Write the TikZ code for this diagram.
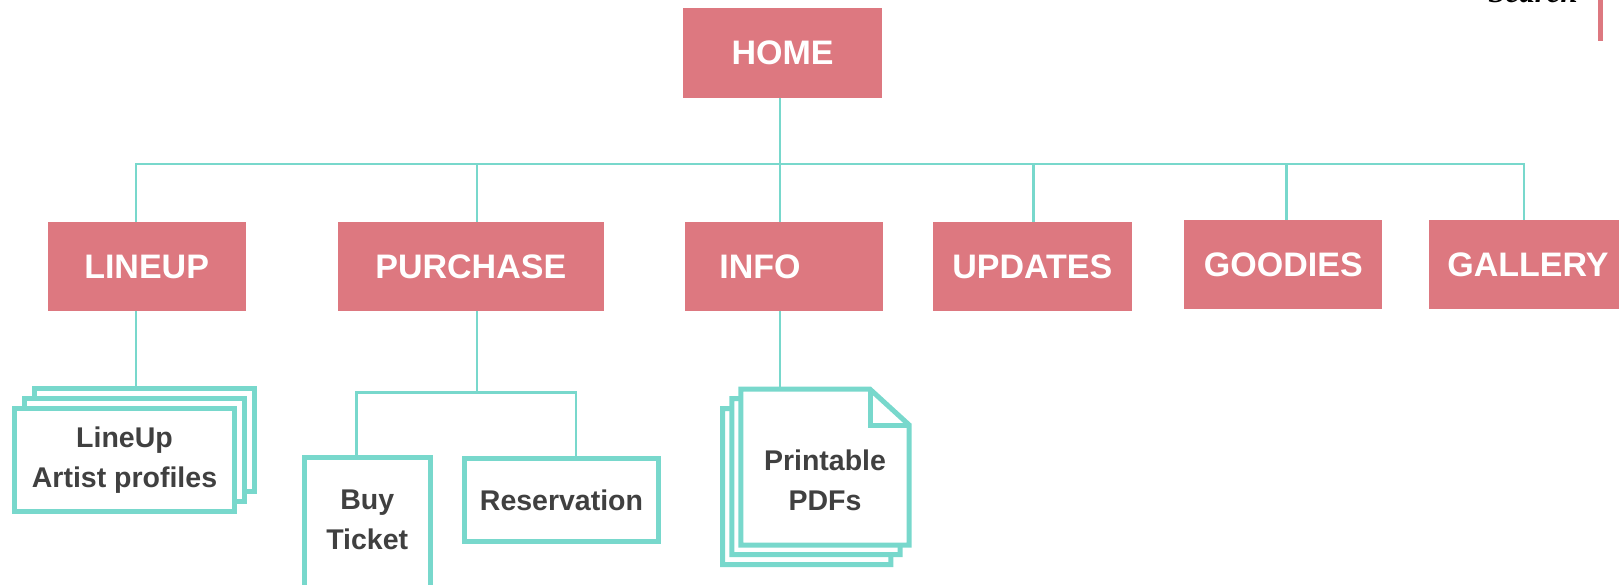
\documentclass[tikz,border=0pt]{standalone}
\usepackage{fontspec}
\setmainfont{Liberation Sans}
\newfontfamily\searchfont{Liberation Serif}
\definecolor{pinkbox}{RGB}{221,120,128}
\definecolor{tealline}{RGB}{120,216,204}
\definecolor{darktext}{RGB}{64,64,64}
\begin{document}
\begin{tikzpicture}[x=1pt,y=-1pt,
  topbox/.style={fill=pinkbox, text=white, font=\fontsize{34}{40}\selectfont\bfseries,
    inner sep=0pt, minimum width=198pt, minimum height=89pt},
  subbox/.style={draw=tealline, line width=5pt, fill=white, text=darktext,
    font=\fontsize{28.5}{40}\selectfont\bfseries, align=center, inner sep=0pt},
  subtext/.style={text=darktext, font=\fontsize{28.5}{40}\selectfont\bfseries, align=center, inner sep=0pt},
  pagestroke/.style={draw=tealline, line width=5pt, fill=white},
  conn/.style={draw=tealline, line width=2.5pt}]
\useasboundingbox (0,0) rectangle (1619,585);

% search corner
\node[anchor=base east, inner sep=0pt, font=\searchfont\bfseries\itshape\fontsize{31}{31}\selectfont] (search) at (1578,3) {Search};
\fill[pinkbox] (1597.7,0) rectangle (1602.7,41);

% top level
\node[topbox, minimum width=199pt, minimum height=90pt] (home) at (782.5,53) {HOME};
\node[topbox] (lineup) at (146.6,266.5) {LINEUP};
\node[topbox, minimum width=266pt] (purchase) at (470.8,266.5) {PURCHASE};
\node[topbox] (info) at (783.6,266.5) {};
\node[text=white, font=\fontsize{34}{40}\selectfont\bfseries, inner sep=0pt] (infotext) at (760,266.5) {INFO};
\node[topbox, minimum width=198.6pt] (updates) at (1032.3,266.5) {UPDATES};
\node[topbox] (goodies) at (1283.3,264.5) {GOODIES};
\node[topbox] (gallery) at (1528,264.5) {GALLERY};

% bus
\coordinate (busL) at (136,164);
\coordinate (busR) at (1524,164);
\coordinate (bp) at (477,164);
\coordinate (bi) at (780,164);
\coordinate (bu) at (1033.5,164);
\coordinate (bg) at (1286.5,164);
\draw[conn] (busL |- lineup.north) -- (busL) -- (busR) -- (busR |- gallery.north);
\draw[conn] (bi |- home.south) -- (bi |- info.north);
\draw[conn] (bp) -- (bp |- purchase.north);
\draw[conn] (bu) -- (bu |- updates.north);
\draw[conn] (bg) -- (bg |- goodies.north);

% lineup stack
\node[subbox, minimum width=220pt, minimum height=103pt] (lu3) at (144.5,440) {};
\node[subbox, minimum width=220pt, minimum height=103pt] (lu2) at (134.5,450) {};
\node[subbox, minimum width=220pt, minimum height=103pt] (lu1) at (124.5,460) {LineUp\\Artist profiles};
\coordinate (lux) at (136,0);
\draw[conn] (lux |- lineup.south) -- (lux |- lu3.north);

% purchase subtree
\node[subbox, minimum width=126pt, minimum height=134.5pt] (buy) at (367.2,524.75) {};
\node[subtext] (buytext) at (367.2,519.5) {Buy\\Ticket};
\node[subbox, minimum width=193.4pt, minimum height=83.6pt] (res) at (561.5,500) {Reservation};
\coordinate (pj) at (477,392.7);
\coordinate (pl) at (356.7,392.7);
\coordinate (pr) at (576,392.7);
\draw[conn] (pj |- purchase.south) -- (pj);
\draw[conn] (pl |- buy.north) -- (pl) -- (pr) -- (pr |- res.north);

% info PDFs
\foreach \dx/\dy in {-18.3/19.3, -9/9.3, 0/0}{
  \begin{scope}[shift={(\dx,\dy)}]
    \draw[pagestroke] (740.8,389.2) -- (870,389.2) -- (909.2,425) -- (909.2,545.2) -- (740.8,545.2) -- cycle;
  \end{scope}
}
\draw[draw=tealline, line width=5pt] (870,389.2) -- (870,425) -- (909.2,425);
\node[subtext] (pdftext) at (825,480) {Printable\\PDFs};
\coordinate (pdftop) at (780,386.7);
\draw[conn] (bi |- info.south) -- (pdftop);
\end{tikzpicture}
\end{document}
